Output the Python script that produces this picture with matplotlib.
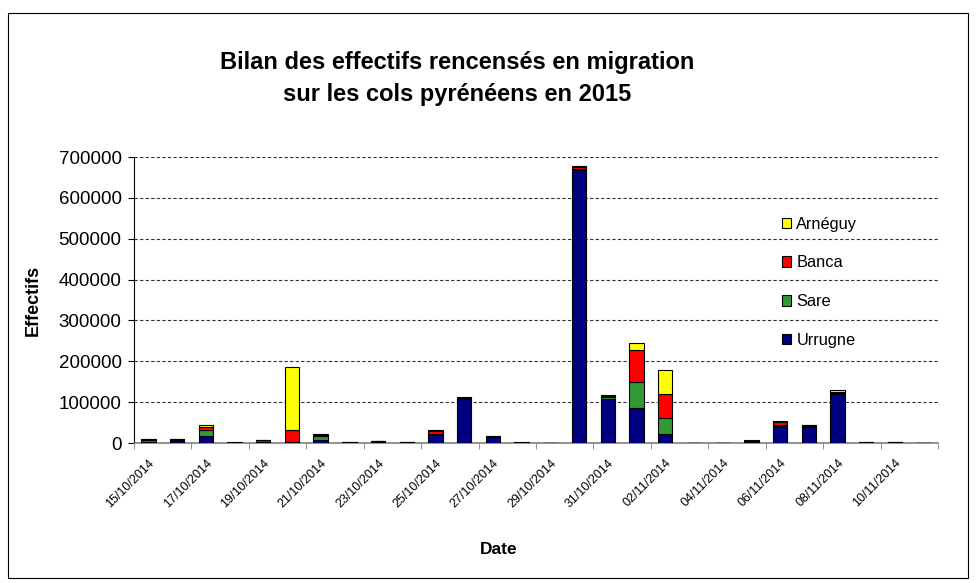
#!/usr/bin/env python3
"""Bilan des effectifs rencensés en migration sur les cols pyrénéens (stacked bars)."""
import numpy as np
import matplotlib
matplotlib.use("Agg")
import matplotlib.pyplot as plt
from matplotlib.patches import Rectangle

plt.rcParams['font.family'] = ['Liberation Sans', 'DejaVu Sans']

dates = ["15/10/2014", "16/10/2014", "17/10/2014", "18/10/2014", "19/10/2014",
         "20/10/2014", "21/10/2014", "22/10/2014", "23/10/2014", "24/10/2014",
         "25/10/2014", "26/10/2014", "27/10/2014", "28/10/2014", "29/10/2014",
         "30/10/2014", "31/10/2014", "01/11/2014", "02/11/2014", "03/11/2014",
         "04/11/2014", "05/11/2014", "06/11/2014", "07/11/2014", "08/11/2014",
         "09/11/2014", "10/11/2014", "11/11/2014"]

urrugne = [3000, 6000, 16000, 500, 1000, 1000, 8000, 500, 2000, 500,
           19000, 107000, 14000, 500, 300, 667000, 108000, 85000, 22000, 0,
           300, 3000, 41000, 39000, 120000, 500, 500, 300]
sare = [5000, 2000, 16000, 300, 1000, 2000, 8000, 500, 2000, 500,
        2000, 2000, 1500, 300, 300, 4000, 4000, 65000, 38400, 0,
        300, 1500, 3000, 2000, 3000, 500, 500, 300]
banca = [1500, 2000, 8000, 300, 5000, 30000, 4000, 500, 1000, 500,
         9000, 2000, 1500, 300, 200, 4000, 4000, 77500, 59500, 0,
         200, 1500, 8000, 2000, 3000, 500, 500, 300]
arneguy = [500, 1000, 3000, 300, 1000, 153000, 2000, 2000, 500, 2000,
           3000, 1000, 1000, 300, 200, 3000, 2000, 17000, 58000, 0,
           200, 1000, 3000, 1500, 3000, 2000, 2000, 300]

series = [("Urrugne", urrugne, "#000080"),
          ("Sare", sare, "#339933"),
          ("Banca", banca, "#FF0000"),
          ("Arnéguy", arneguy, "#FFFF00")]


def main():
    fig = plt.figure(figsize=(9.76, 5.83), dpi=100)
    ax = fig.add_axes([134 / 976, 1 - 443 / 583, (938 - 134) / 976, (443 - 157) / 583])

    # outer chart frame
    fig.patches.append(Rectangle((8 / 976, 5 / 583), 960 / 976, 565 / 583,
                                 transform=fig.transFigure, fill=False,
                                 edgecolor="black", linewidth=0.8))

    x = np.arange(len(dates))
    bottom = np.zeros(len(dates))
    handles = []
    for name, vals, color in series:
        vals = np.array(vals, dtype=float)
        b = ax.bar(x, vals, width=0.5, bottom=bottom, color=color,
                   edgecolor="black", linewidth=0.8, label=name, zorder=3)
        handles.append(b)
        bottom += vals

    ax.set_xlim(-0.5, len(dates) - 0.5)
    ax.set_ylim(0, 700000)
    ax.set_yticks(np.arange(0, 700001, 100000))
    ax.tick_params(axis="y", labelsize=13.5, length=4, color="black", pad=5)
    ax.yaxis.grid(True, linestyle=(0, (3, 2)), color="#333333", linewidth=0.8, zorder=0)
    ax.set_axisbelow(True)

    ax.set_xticks(x[::2])
    ax.set_xticklabels(dates[::2], rotation=45, ha="right", rotation_mode="anchor", fontsize=9)
    ax.set_xticks(np.arange(-0.5, len(dates), 2), minor=True)
    ax.tick_params(axis="x", which="major", length=0, pad=10)
    ax.tick_params(axis="x", which="minor", length=4, color="#808080")

    for side in ("top", "right"):
        ax.spines[side].set_visible(False)
    ax.spines["bottom"].set_color("#808080")
    ax.spines["bottom"].set_linewidth(1.2)
    ax.spines["left"].set_color("black")

    ax.set_ylabel("Effectifs", fontsize=13, fontweight="bold")
    ax.yaxis.set_label_coords(-0.115, 0.5)
    ax.set_xlabel("Date", fontsize=12.5, fontweight="bold")
    ax.xaxis.set_label_coords(0.454, -0.345)

    fig.text(457 / 976, 1 - 78 / 583,
             "Bilan des effectifs rencensés en migration\nsur les cols pyrénéens en 2015",
             ha="center", va="center", fontsize=17, fontweight="bold", linespacing=1.5)

    ax.legend(handles=handles[::-1], labels=[s[0] for s in series][::-1],
              loc="upper left", bbox_to_anchor=(775 / 976, 1 - 210 / 583),
              bbox_transform=fig.transFigure, frameon=False, fontsize=11.8,
              handlelength=0.6, handleheight=0.6, handletextpad=0.3,
              labelspacing=1.45, borderaxespad=0)

    fig.savefig("out.png", dpi=100)


if __name__ == "__main__":
    main()
